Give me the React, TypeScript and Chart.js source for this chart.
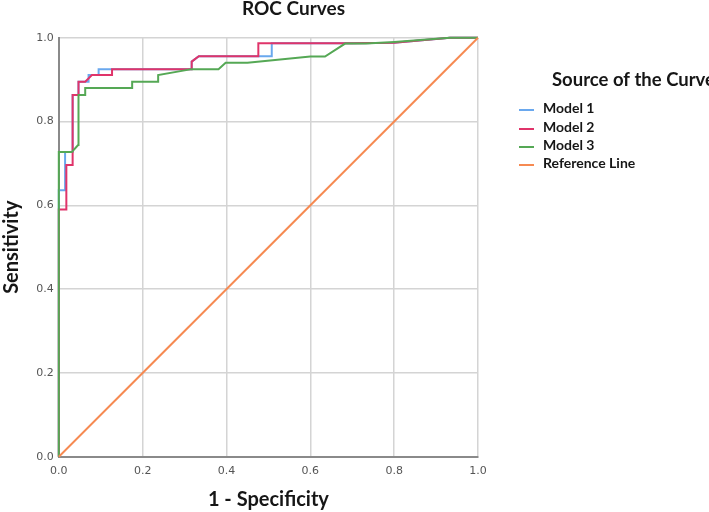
import React, { useEffect, useRef } from "react";
import { Chart, registerables } from "chart.js";

Chart.register(...registerables);

const chartTitle = "ROC Curves";
const xAxisTitle = "1 - Specificity";
const yAxisTitle = "Sensitivity";
const legendTitle = "Source of the Curve";

const seriesLabels = ["Model 1", "Model 2", "Model 3", "Reference Line"];
const seriesColors = ["#6aa8ee", "#e0346a", "#55a855", "#f68a52"];

const model1X = [0, 0, 0.015, 0.015, 0.033, 0.033, 0.047, 0.047, 0.071, 0.071, 0.095, 0.095, 0.317, 0.317, 0.334, 0.508, 0.508, 0.7, 0.8, 0.933, 1];
const model1Y = [0, 0.636, 0.636, 0.727, 0.727, 0.863, 0.863, 0.895, 0.895, 0.911, 0.911, 0.925, 0.925, 0.943, 0.956, 0.956, 0.987, 0.987, 0.988, 1, 1];

const model2X = [0, 0, 0.018, 0.018, 0.033, 0.033, 0.047, 0.047, 0.063, 0.079, 0.127, 0.127, 0.317, 0.317, 0.334, 0.476, 0.476, 0.7, 0.8, 0.933, 1];
const model2Y = [0, 0.59, 0.59, 0.696, 0.696, 0.863, 0.863, 0.895, 0.895, 0.911, 0.911, 0.925, 0.925, 0.943, 0.956, 0.956, 0.987, 0.987, 0.988, 1, 1];

const model3X = [0, 0, 0.031, 0.046, 0.047, 0.063, 0.063, 0.175, 0.175, 0.237, 0.237, 0.317, 0.381, 0.398, 0.45, 0.6, 0.635, 0.683, 0.733, 0.8, 0.933, 1];
const model3Y = [0, 0.727, 0.727, 0.744, 0.863, 0.863, 0.88, 0.88, 0.895, 0.895, 0.911, 0.925, 0.925, 0.94, 0.94, 0.955, 0.955, 0.986, 0.986, 0.99, 1, 1];

const referenceX = [0, 1];
const referenceY = [0, 1];

const axisMin = 0;
const axisMax = 1;
const axisStep = 0.2;

const toPoints = (xs: number[], ys: number[]) => xs.map((x, i) => ({ x, y: ys[i] }));

const textPlugin = {
  id: "customText",
  afterDraw(chart: any) {
    const ctx = chart.ctx as CanvasRenderingContext2D;
    const area = chart.chartArea;
    ctx.save();
    ctx.fillStyle = "#161616";
    ctx.textBaseline = "middle";

    ctx.textAlign = "center";
    ctx.font = "bold 19px Lato";
    ctx.fillText(chartTitle, 293.5, 9);

    ctx.font = "bold 20px Lato";
    ctx.fillText(xAxisTitle, (area.left + area.right) / 2, 500);

    ctx.save();
    ctx.translate(12, (area.top + area.bottom) / 2);
    ctx.rotate(-Math.PI / 2);
    ctx.fillText(yAxisTitle, 0, 0);
    ctx.restore();

    ctx.textAlign = "left";
    ctx.font = "bold 18.5px Lato";
    ctx.fillText(legendTitle, 552, 80);

    const rows = [108.5, 127.5, 145.5, 163.5];
    ctx.font = "bold 14px Lato";
    seriesLabels.forEach((label, i) => {
      ctx.strokeStyle = seriesColors[i];
      ctx.lineWidth = 2;
      ctx.beginPath();
      ctx.moveTo(519, rows[i] + 1.5);
      ctx.lineTo(534, rows[i] + 1.5);
      ctx.stroke();
      ctx.fillStyle = "#161616";
      ctx.fillText(label, 543, rows[i]);
    });
    ctx.restore();
  },
};

export default function App() {
  const ref = useRef<HTMLCanvasElement>(null);

  useEffect(() => {
    document.body.style.margin = "0";
    const canvas = ref.current;
    if (!canvas) return;
    const seriesData = [
      toPoints(model1X, model1Y),
      toPoints(model2X, model2Y),
      toPoints(model3X, model3Y),
      toPoints(referenceX, referenceY),
    ];
    const drawOrder = [3, 2, 1, 0];
    const tickStyle = {
      stepSize: axisStep,
      color: "#555555",
      font: { family: "DejaVu Sans", size: 11 },
      callback: (v: any) => Number(v).toFixed(1),
    };
    const chart = new Chart(canvas, {
      type: "scatter",
      data: {
        datasets: seriesData.map((d, i) => ({
          label: seriesLabels[i],
          data: d,
          showLine: true,
          borderColor: seriesColors[i],
          backgroundColor: seriesColors[i],
          borderWidth: 2,
          pointRadius: 0,
          pointHoverRadius: 0,
          tension: 0,
          order: drawOrder[i],
          clip: 4,
        })),
      },
      options: {
        responsive: false,
        animation: false,
        layout: { padding: { left: 0, top: 37.7, right: 231, bottom: 0 } },
        plugins: {
          legend: { display: false },
          tooltip: { enabled: false },
          title: { display: false },
        },
        scales: {
          x: {
            type: "linear",
            min: axisMin,
            max: axisMax,
            ticks: { ...tickStyle, padding: 8 },
            grid: { color: "#d4d4d4", lineWidth: 1.5, drawTicks: false },
            border: { color: "#8a8a8a", width: 2 },
            afterFit: (s: any) => {
              s.height = 55.3;
            },
          },
          y: {
            type: "linear",
            min: axisMin,
            max: axisMax,
            ticks: { ...tickStyle, padding: 5 },
            grid: { color: "#d4d4d4", lineWidth: 1.5, drawTicks: false },
            border: { color: "#8a8a8a", width: 2 },
            afterFit: (s: any) => {
              s.width = 58.8;
            },
          },
        },
      } as any,
      plugins: [textPlugin],
    });
    return () => chart.destroy();
  }, []);

  return (
    <div style={{ position: "absolute", left: 0, top: 0, width: 709, height: 512, background: "#fff" }}>
      <canvas ref={ref} width={709} height={512} style={{ display: "block" }} />
    </div>
  );
}
